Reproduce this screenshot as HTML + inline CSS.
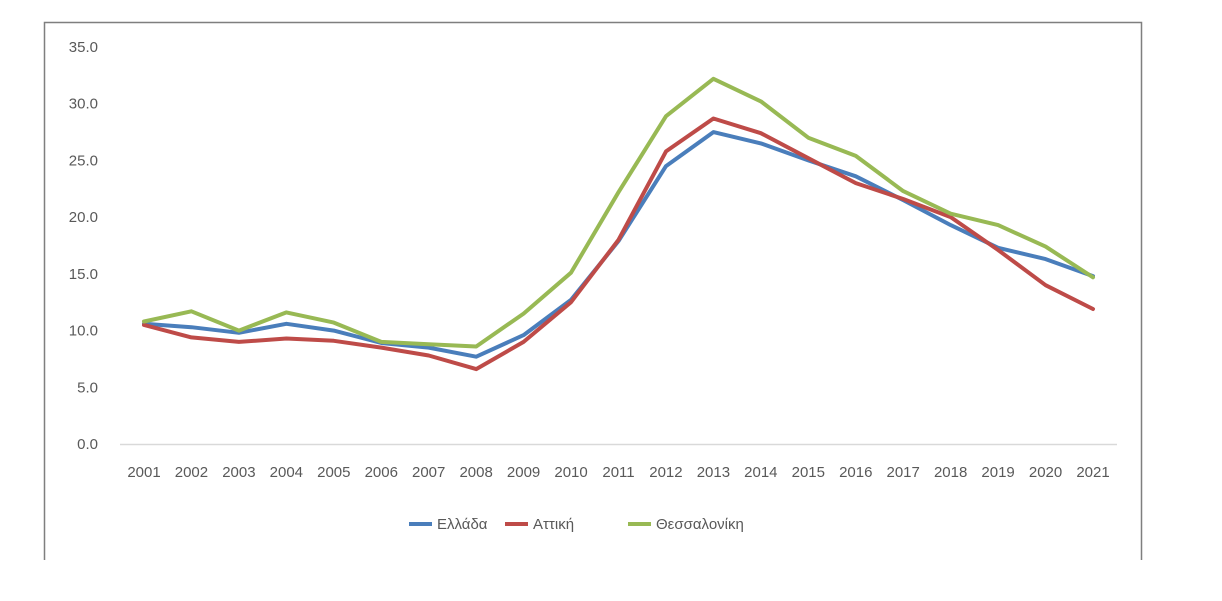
<!DOCTYPE html>
<html><head><meta charset="utf-8"><style>
body{margin:0;background:#fff;}
svg text{font-family:"Liberation Sans","DejaVu Sans",sans-serif;fill:#595959;font-size:15px;}
</style></head><body>
<svg id="s" width="1222" height="596" xmlns="http://www.w3.org/2000/svg">
<rect width="1222" height="596" fill="#fff"/>
<polyline points="44.5,560 44.5,22.5 1141.5,22.5 1141.5,560" fill="none" stroke="#7f7f7f" stroke-width="1.5"/>
<line x1="120" y1="444.5" x2="1117" y2="444.5" stroke="#d9d9d9" stroke-width="1.5"/>
<g id="g"></g>
<line x1="409" y1="524" x2="432" y2="524" stroke="#4a7ebb" stroke-width="4"/>
<text x="437" y="529">Ελλάδα</text>
<line x1="505" y1="524" x2="528" y2="524" stroke="#be4b48" stroke-width="4"/>
<text x="533" y="529">Αττική</text>
<line x1="628" y1="524" x2="651" y2="524" stroke="#98b954" stroke-width="4"/>
<text x="656" y="529">Θεσσαλονίκη</text>
</svg>
<script>
var g=document.getElementById('g'),ns='http://www.w3.org/2000/svg',h='';
function Y(v){return 444-v*11.343;}
function X(i){return 144+i*47.45;}
for(var k=0;k<=7;k++){h+='<text x="98" y="'+(Y(k*5)+5)+'" text-anchor="end">'+(k*5).toFixed(1)+'</text>';}
for(var i=0;i<21;i++){h+='<text x="'+X(i)+'" y="477" text-anchor="middle">'+(2001+i)+'</text>';}
var D=[["#98b954",[10.8,11.7,10.0,11.6,10.7,9.0,8.8,8.6,11.5,15.1,22.2,28.9,32.2,30.2,27.0,25.4,22.3,20.3,19.3,17.4,14.7]],
["#be4b48",[10.5,9.4,9.0,9.3,9.1,8.5,7.8,6.6,9.0,12.5,18.0,25.8,28.7,27.4,25.2,23.0,21.6,20.0,17.1,14.0,11.9]],
["#4a7ebb",[10.6,10.3,9.8,10.6,10.0,8.9,8.5,7.7,9.6,12.7,17.9,24.5,27.5,26.5,25.0,23.6,21.5,19.3,17.3,16.3,14.8]]];
D=[D[2],D[1],D[0]];
D.forEach(function(d){var p=d[1].map(function(v,i){return X(i).toFixed(1)+','+Y(v).toFixed(1);}).join(' ');
h+='<polyline points="'+p+'" fill="none" stroke="'+d[0]+'" stroke-width="4" stroke-linejoin="round" stroke-linecap="round"/>';});
g.innerHTML=h;
</script>
</body></html>
